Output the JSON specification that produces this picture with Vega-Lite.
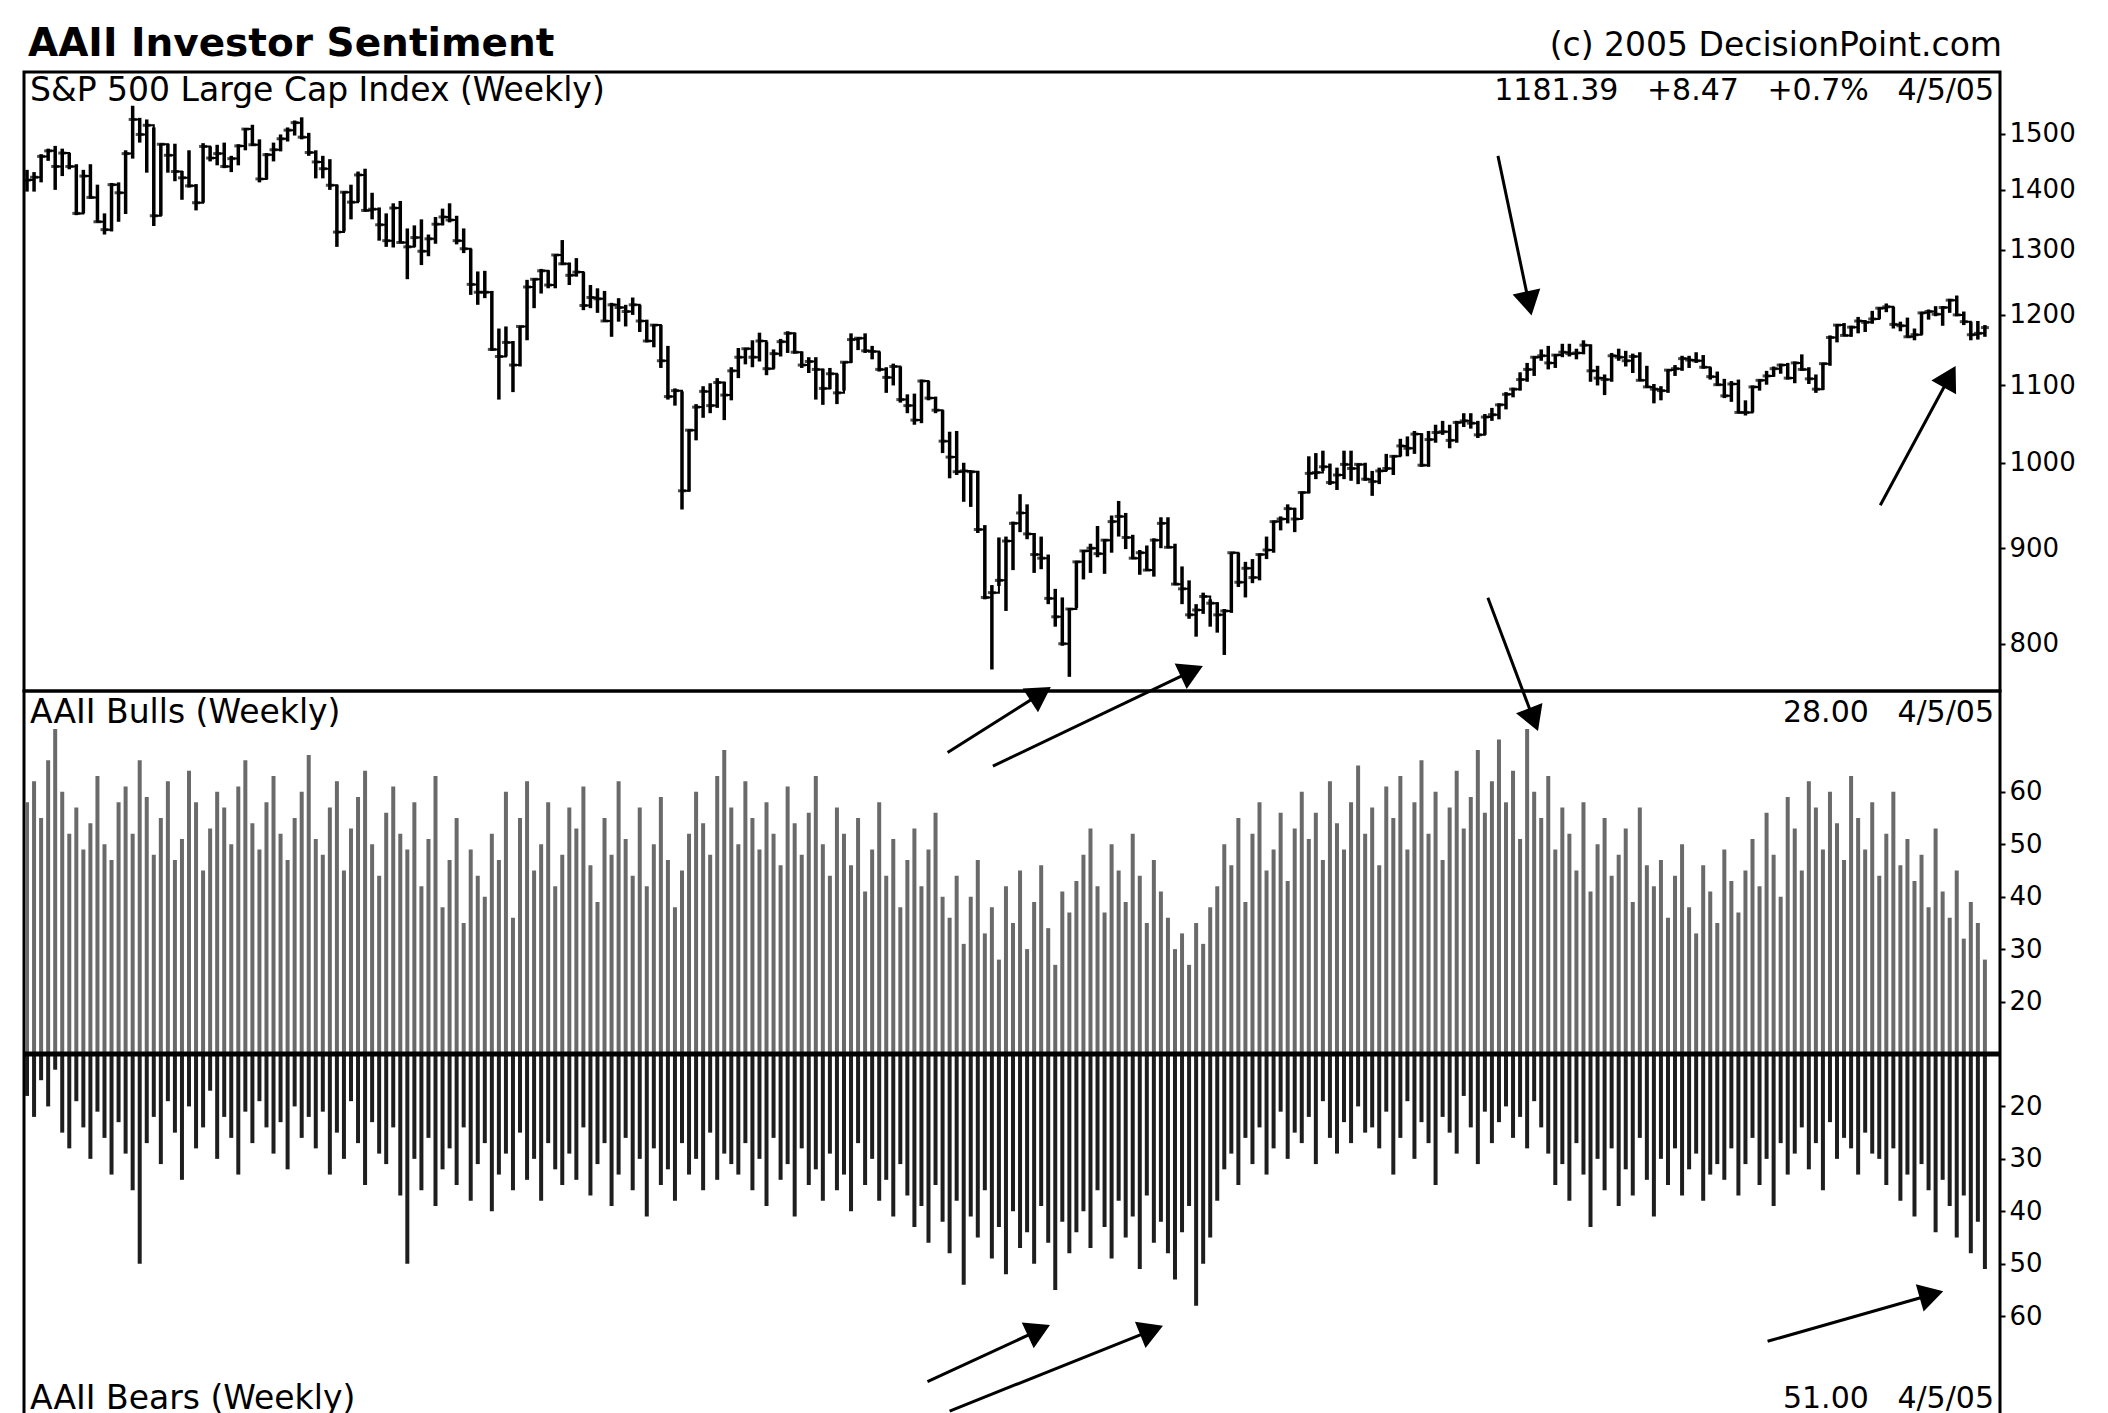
{
"$schema": "https://vega.github.io/schema/vega-lite/v6.json",
"background": "white",
"padding": {"left": 20, "top": 23, "right": 110, "bottom": 0},
"spacing": 0,
"bounds": "flush",
"config": {"view": {"stroke": "black", "strokeWidth": 3}, "font": "DejaVu Sans", "text": {"font": "DejaVu Sans", "color": "black"}, "axis": {"labelFont": "DejaVu Sans", "labelColor": "black", "labelFontSize": 26, "tickColor": "black", "tickWidth": 2, "tickSize": 5, "labelPadding": 4, "domain": false, "grid": false}},
"datasets": {
"w": [
{"d":"1999-12-07","h":1435,"l":1397,"c":1417,"bu":58,"be":18},
{"d":"1999-12-14","h":1431,"l":1397,"c":1422,"bu":62,"be":22},
{"d":"1999-12-21","h":1463,"l":1413,"c":1459,"bu":55,"be":15},
{"d":"1999-12-28","h":1473,"l":1451,"c":1469,"bu":66,"be":20},
{"d":"2000-01-04","h":1478,"l":1400,"c":1441,"bu":72,"be":13},
{"d":"2000-01-11","h":1473,"l":1424,"c":1465,"bu":60,"be":25},
{"d":"2000-01-18","h":1465,"l":1436,"c":1441,"bu":52,"be":28},
{"d":"2000-01-25","h":1445,"l":1357,"c":1360,"bu":57,"be":19},
{"d":"2000-02-01","h":1435,"l":1360,"c":1424,"bu":49,"be":24},
{"d":"2000-02-08","h":1445,"l":1385,"c":1387,"bu":54,"be":30},
{"d":"2000-02-15","h":1409,"l":1345,"c":1346,"bu":63,"be":21},
{"d":"2000-02-22","h":1360,"l":1325,"c":1333,"bu":50,"be":26},
{"d":"2000-02-29","h":1412,"l":1330,"c":1409,"bu":47,"be":33},
{"d":"2000-03-07","h":1413,"l":1346,"c":1395,"bu":58,"be":23},
{"d":"2000-03-14","h":1470,"l":1359,"c":1464,"bu":61,"be":29},
{"d":"2000-03-21","h":1553,"l":1455,"c":1527,"bu":52,"be":36},
{"d":"2000-03-28","h":1530,"l":1484,"c":1499,"bu":66,"be":50},
{"d":"2000-04-04","h":1527,"l":1430,"c":1516,"bu":59,"be":27},
{"d":"2000-04-11","h":1512,"l":1339,"c":1356,"bu":48,"be":22},
{"d":"2000-04-18","h":1482,"l":1356,"c":1481,"bu":55,"be":31},
{"d":"2000-04-25","h":1482,"l":1430,"c":1461,"bu":62,"be":19},
{"d":"2000-05-02","h":1482,"l":1415,"c":1432,"bu":47,"be":25},
{"d":"2000-05-09","h":1433,"l":1383,"c":1421,"bu":51,"be":34},
{"d":"2000-05-16","h":1470,"l":1404,"c":1407,"bu":64,"be":20},
{"d":"2000-05-23","h":1410,"l":1365,"c":1378,"bu":58,"be":28},
{"d":"2000-05-30","h":1483,"l":1378,"c":1477,"bu":45,"be":24},
{"d":"2000-06-06","h":1477,"l":1450,"c":1456,"bu":53,"be":17},
{"d":"2000-06-13","h":1480,"l":1443,"c":1464,"bu":60,"be":30},
{"d":"2000-06-20","h":1484,"l":1438,"c":1441,"bu":57,"be":22},
{"d":"2000-06-27","h":1460,"l":1431,"c":1455,"bu":50,"be":26},
{"d":"2000-07-04","h":1481,"l":1443,"c":1478,"bu":61,"be":33},
{"d":"2000-07-11","h":1511,"l":1470,"c":1509,"bu":66,"be":21},
{"d":"2000-07-18","h":1517,"l":1478,"c":1480,"bu":54,"be":27},
{"d":"2000-07-25","h":1490,"l":1413,"c":1419,"bu":49,"be":19},
{"d":"2000-08-01","h":1465,"l":1418,"c":1462,"bu":58,"be":24},
{"d":"2000-08-08","h":1484,"l":1450,"c":1471,"bu":63,"be":29},
{"d":"2000-08-15","h":1499,"l":1468,"c":1491,"bu":52,"be":23},
{"d":"2000-08-22","h":1512,"l":1486,"c":1507,"bu":47,"be":32},
{"d":"2000-08-29","h":1525,"l":1497,"c":1521,"bu":55,"be":20},
{"d":"2000-09-05","h":1531,"l":1490,"c":1494,"bu":60,"be":26},
{"d":"2000-09-12","h":1502,"l":1460,"c":1466,"bu":67,"be":22},
{"d":"2000-09-19","h":1470,"l":1420,"c":1449,"bu":51,"be":28},
{"d":"2000-09-26","h":1460,"l":1420,"c":1437,"bu":48,"be":21},
{"d":"2000-10-03","h":1454,"l":1400,"c":1408,"bu":57,"be":33},
{"d":"2000-10-10","h":1409,"l":1305,"c":1329,"bu":62,"be":25},
{"d":"2000-10-17","h":1397,"l":1330,"c":1396,"bu":45,"be":30},
{"d":"2000-10-24","h":1409,"l":1350,"c":1379,"bu":53,"be":19},
{"d":"2000-10-31","h":1432,"l":1379,"c":1426,"bu":59,"be":27},
{"d":"2000-11-07","h":1437,"l":1363,"c":1365,"bu":64,"be":35},
{"d":"2000-11-14","h":1395,"l":1350,"c":1367,"bu":50,"be":23},
{"d":"2000-11-21","h":1370,"l":1315,"c":1341,"bu":44,"be":29},
{"d":"2000-11-28","h":1360,"l":1305,"c":1315,"bu":56,"be":31},
{"d":"2000-12-05","h":1377,"l":1304,"c":1369,"bu":61,"be":24},
{"d":"2000-12-12","h":1381,"l":1312,"c":1312,"bu":52,"be":37},
{"d":"2000-12-19","h":1335,"l":1254,"c":1305,"bu":49,"be":50},
{"d":"2000-12-26","h":1340,"l":1305,"c":1320,"bu":58,"be":30},
{"d":"2001-01-02","h":1350,"l":1276,"c":1298,"bu":42,"be":36},
{"d":"2001-01-09","h":1325,"l":1290,"c":1318,"bu":51,"be":26},
{"d":"2001-01-16","h":1354,"l":1310,"c":1342,"bu":63,"be":39},
{"d":"2001-01-23","h":1368,"l":1340,"c":1354,"bu":38,"be":32},
{"d":"2001-01-30","h":1377,"l":1345,"c":1349,"bu":47,"be":28},
{"d":"2001-02-06","h":1356,"l":1309,"c":1315,"bu":55,"be":35},
{"d":"2001-02-13","h":1335,"l":1295,"c":1302,"bu":35,"be":24},
{"d":"2001-02-20","h":1302,"l":1230,"c":1246,"bu":49,"be":38},
{"d":"2001-02-27","h":1266,"l":1215,"c":1234,"bu":44,"be":31},
{"d":"2001-03-06","h":1267,"l":1225,"c":1234,"bu":40,"be":27},
{"d":"2001-03-13","h":1236,"l":1148,"c":1150,"bu":52,"be":40},
{"d":"2001-03-20","h":1180,"l":1081,"c":1140,"bu":47,"be":33},
{"d":"2001-03-27","h":1183,"l":1140,"c":1160,"bu":60,"be":29},
{"d":"2001-04-03","h":1162,"l":1091,"c":1128,"bu":36,"be":36},
{"d":"2001-04-10","h":1183,"l":1126,"c":1183,"bu":55,"be":25},
{"d":"2001-04-17","h":1253,"l":1163,"c":1242,"bu":62,"be":34},
{"d":"2001-04-24","h":1255,"l":1210,"c":1254,"bu":45,"be":30},
{"d":"2001-05-01","h":1270,"l":1232,"c":1267,"bu":50,"be":38},
{"d":"2001-05-08","h":1268,"l":1240,"c":1245,"bu":58,"be":27},
{"d":"2001-05-15","h":1292,"l":1240,"c":1292,"bu":42,"be":32},
{"d":"2001-05-22","h":1316,"l":1276,"c":1278,"bu":48,"be":35},
{"d":"2001-05-29","h":1280,"l":1245,"c":1260,"bu":57,"be":29},
{"d":"2001-06-05","h":1287,"l":1258,"c":1265,"bu":53,"be":34},
{"d":"2001-06-12","h":1265,"l":1207,"c":1214,"bu":61,"be":24},
{"d":"2001-06-19","h":1245,"l":1210,"c":1226,"bu":46,"be":37},
{"d":"2001-06-26","h":1240,"l":1203,"c":1224,"bu":39,"be":31},
{"d":"2001-07-03","h":1236,"l":1190,"c":1191,"bu":55,"be":27},
{"d":"2001-07-10","h":1218,"l":1168,"c":1215,"bu":48,"be":39},
{"d":"2001-07-17","h":1225,"l":1190,"c":1211,"bu":62,"be":33},
{"d":"2001-07-24","h":1215,"l":1183,"c":1205,"bu":51,"be":26},
{"d":"2001-07-31","h":1226,"l":1200,"c":1215,"bu":44,"be":36},
{"d":"2001-08-07","h":1215,"l":1175,"c":1191,"bu":57,"be":30},
{"d":"2001-08-14","h":1193,"l":1160,"c":1162,"bu":42,"be":41},
{"d":"2001-08-21","h":1186,"l":1153,"c":1185,"bu":50,"be":28},
{"d":"2001-08-28","h":1185,"l":1124,"c":1134,"bu":59,"be":35},
{"d":"2001-09-04","h":1155,"l":1081,"c":1085,"bu":47,"be":32},
{"d":"2001-09-11","h":1096,"l":1073,"c":1093,"bu":38,"be":38},
{"d":"2001-09-18","h":1092,"l":944,"c":966,"bu":45,"be":27},
{"d":"2001-09-25","h":1042,"l":965,"c":1041,"bu":52,"be":33},
{"d":"2001-10-02","h":1075,"l":1028,"c":1071,"bu":60,"be":30},
{"d":"2001-10-09","h":1099,"l":1057,"c":1092,"bu":54,"be":36},
{"d":"2001-10-16","h":1103,"l":1063,"c":1073,"bu":48,"be":25},
{"d":"2001-10-23","h":1110,"l":1070,"c":1104,"bu":63,"be":34},
{"d":"2001-10-30","h":1105,"l":1054,"c":1087,"bu":68,"be":29},
{"d":"2001-11-06","h":1125,"l":1080,"c":1120,"bu":57,"be":31},
{"d":"2001-11-13","h":1152,"l":1110,"c":1139,"bu":50,"be":33},
{"d":"2001-11-20","h":1152,"l":1129,"c":1151,"bu":62,"be":27},
{"d":"2001-11-27","h":1163,"l":1125,"c":1139,"bu":55,"be":36},
{"d":"2001-12-04","h":1174,"l":1133,"c":1162,"bu":49,"be":30},
{"d":"2001-12-11","h":1161,"l":1114,"c":1123,"bu":58,"be":39},
{"d":"2001-12-18","h":1150,"l":1123,"c":1144,"bu":52,"be":26},
{"d":"2001-12-25","h":1165,"l":1140,"c":1161,"bu":46,"be":34},
{"d":"2002-01-01","h":1176,"l":1145,"c":1173,"bu":61,"be":31},
{"d":"2002-01-08","h":1174,"l":1144,"c":1146,"bu":54,"be":41},
{"d":"2002-01-15","h":1147,"l":1124,"c":1128,"bu":48,"be":28},
{"d":"2002-01-22","h":1139,"l":1117,"c":1133,"bu":56,"be":35},
{"d":"2002-01-29","h":1139,"l":1081,"c":1122,"bu":63,"be":32},
{"d":"2002-02-05","h":1123,"l":1074,"c":1096,"bu":50,"be":38},
{"d":"2002-02-12","h":1124,"l":1095,"c":1116,"bu":44,"be":29},
{"d":"2002-02-19","h":1116,"l":1075,"c":1090,"bu":57,"be":36},
{"d":"2002-02-26","h":1132,"l":1093,"c":1132,"bu":52,"be":33},
{"d":"2002-03-05","h":1173,"l":1131,"c":1164,"bu":46,"be":40},
{"d":"2002-03-12","h":1167,"l":1149,"c":1166,"bu":55,"be":27},
{"d":"2002-03-19","h":1173,"l":1145,"c":1148,"bu":41,"be":35},
{"d":"2002-03-26","h":1155,"l":1136,"c":1147,"bu":49,"be":30},
{"d":"2002-04-02","h":1147,"l":1119,"c":1122,"bu":58,"be":38},
{"d":"2002-04-09","h":1125,"l":1090,"c":1111,"bu":44,"be":34},
{"d":"2002-04-16","h":1130,"l":1100,"c":1126,"bu":51,"be":41},
{"d":"2002-04-23","h":1126,"l":1077,"c":1081,"bu":38,"be":31},
{"d":"2002-04-30","h":1088,"l":1063,"c":1073,"bu":47,"be":37},
{"d":"2002-05-07","h":1089,"l":1048,"c":1054,"bu":53,"be":43},
{"d":"2002-05-14","h":1108,"l":1050,"c":1106,"bu":42,"be":39},
{"d":"2002-05-21","h":1106,"l":1080,"c":1083,"bu":49,"be":46},
{"d":"2002-05-28","h":1085,"l":1063,"c":1067,"bu":56,"be":35},
{"d":"2002-06-04","h":1067,"l":1012,"c":1027,"bu":40,"be":42},
{"d":"2002-06-11","h":1039,"l":981,"c":1007,"bu":36,"be":48},
{"d":"2002-06-18","h":1040,"l":985,"c":989,"bu":44,"be":38},
{"d":"2002-06-25","h":1000,"l":953,"c":990,"bu":31,"be":54},
{"d":"2002-07-02","h":990,"l":947,"c":989,"bu":40,"be":41},
{"d":"2002-07-09","h":990,"l":917,"c":921,"bu":47,"be":45},
{"d":"2002-07-16","h":926,"l":845,"c":847,"bu":33,"be":36},
{"d":"2002-07-23","h":860,"l":775,"c":852,"bu":38,"be":49},
{"d":"2002-07-30","h":912,"l":859,"c":865,"bu":28,"be":43},
{"d":"2002-08-06","h":913,"l":833,"c":908,"bu":42,"be":52},
{"d":"2002-08-13","h":930,"l":876,"c":928,"bu":35,"be":40},
{"d":"2002-08-20","h":962,"l":918,"c":940,"bu":45,"be":47},
{"d":"2002-08-27","h":950,"l":910,"c":916,"bu":30,"be":44},
{"d":"2002-09-03","h":917,"l":873,"c":893,"bu":39,"be":50},
{"d":"2002-09-10","h":913,"l":877,"c":889,"bu":46,"be":39},
{"d":"2002-09-17","h":893,"l":840,"c":846,"bu":34,"be":46},
{"d":"2002-09-24","h":856,"l":817,"c":827,"bu":27,"be":55},
{"d":"2002-10-01","h":847,"l":798,"c":800,"bu":41,"be":42},
{"d":"2002-10-08","h":836,"l":768,"c":835,"bu":37,"be":48},
{"d":"2002-10-15","h":886,"l":836,"c":885,"bu":43,"be":44},
{"d":"2002-10-22","h":898,"l":866,"c":897,"bu":48,"be":40},
{"d":"2002-10-29","h":905,"l":873,"c":900,"bu":53,"be":47},
{"d":"2002-11-05","h":925,"l":890,"c":894,"bu":42,"be":36},
{"d":"2002-11-12","h":910,"l":872,"c":909,"bu":37,"be":43},
{"d":"2002-11-19","h":937,"l":895,"c":930,"bu":50,"be":49},
{"d":"2002-11-26","h":954,"l":913,"c":936,"bu":45,"be":38},
{"d":"2002-12-03","h":940,"l":899,"c":912,"bu":39,"be":45},
{"d":"2002-12-10","h":915,"l":888,"c":889,"bu":52,"be":41},
{"d":"2002-12-17","h":898,"l":871,"c":895,"bu":44,"be":51},
{"d":"2002-12-24","h":903,"l":875,"c":876,"bu":35,"be":37},
{"d":"2002-12-31","h":911,"l":869,"c":909,"bu":47,"be":46},
{"d":"2003-01-07","h":935,"l":900,"c":928,"bu":41,"be":42},
{"d":"2003-01-14","h":935,"l":900,"c":901,"bu":36,"be":48},
{"d":"2003-01-21","h":905,"l":860,"c":861,"bu":30,"be":53},
{"d":"2003-01-28","h":880,"l":840,"c":856,"bu":33,"be":44},
{"d":"2003-02-04","h":865,"l":825,"c":829,"bu":27,"be":39},
{"d":"2003-02-11","h":840,"l":807,"c":834,"bu":35,"be":58},
{"d":"2003-02-18","h":852,"l":830,"c":848,"bu":31,"be":50},
{"d":"2003-02-25","h":845,"l":817,"c":841,"bu":38,"be":45},
{"d":"2003-03-04","h":842,"l":811,"c":829,"bu":42,"be":38},
{"d":"2003-03-11","h":835,"l":789,"c":833,"bu":50,"be":32},
{"d":"2003-03-18","h":895,"l":831,"c":895,"bu":46,"be":29},
{"d":"2003-03-25","h":895,"l":858,"c":863,"bu":55,"be":35},
{"d":"2003-04-01","h":885,"l":847,"c":878,"bu":39,"be":26},
{"d":"2003-04-08","h":888,"l":862,"c":868,"bu":52,"be":31},
{"d":"2003-04-15","h":894,"l":865,"c":893,"bu":58,"be":24},
{"d":"2003-04-22","h":913,"l":888,"c":898,"bu":45,"be":33},
{"d":"2003-04-29","h":931,"l":895,"c":930,"bu":49,"be":28},
{"d":"2003-05-06","h":936,"l":920,"c":933,"bu":56,"be":21},
{"d":"2003-05-13","h":950,"l":928,"c":945,"bu":43,"be":30},
{"d":"2003-05-20","h":946,"l":918,"c":933,"bu":53,"be":25},
{"d":"2003-05-27","h":965,"l":933,"c":964,"bu":60,"be":27},
{"d":"2003-06-03","h":1008,"l":963,"c":987,"bu":51,"be":22},
{"d":"2003-06-10","h":1012,"l":980,"c":988,"bu":56,"be":31},
{"d":"2003-06-17","h":1015,"l":990,"c":995,"bu":47,"be":19},
{"d":"2003-06-24","h":999,"l":973,"c":976,"bu":62,"be":26},
{"d":"2003-07-01","h":994,"l":967,"c":985,"bu":54,"be":29},
{"d":"2003-07-08","h":1015,"l":980,"c":998,"bu":49,"be":23},
{"d":"2003-07-15","h":1015,"l":978,"c":993,"bu":58,"be":27},
{"d":"2003-07-22","h":999,"l":974,"c":998,"bu":65,"be":20},
{"d":"2003-07-29","h":1000,"l":978,"c":980,"bu":52,"be":25},
{"d":"2003-08-05","h":990,"l":960,"c":977,"bu":57,"be":24},
{"d":"2003-08-12","h":994,"l":974,"c":990,"bu":46,"be":28},
{"d":"2003-08-19","h":1011,"l":990,"c":993,"bu":61,"be":21},
{"d":"2003-08-26","h":1009,"l":985,"c":1008,"bu":55,"be":33},
{"d":"2003-09-02","h":1030,"l":1008,"c":1021,"bu":63,"be":26},
{"d":"2003-09-09","h":1033,"l":1008,"c":1018,"bu":49,"be":19},
{"d":"2003-09-16","h":1040,"l":1011,"c":1036,"bu":58,"be":30},
{"d":"2003-09-23","h":1037,"l":995,"c":997,"bu":66,"be":23},
{"d":"2003-09-30","h":1040,"l":995,"c":1029,"bu":52,"be":27},
{"d":"2003-10-07","h":1048,"l":1025,"c":1038,"bu":60,"be":35},
{"d":"2003-10-14","h":1053,"l":1035,"c":1039,"bu":47,"be":22},
{"d":"2003-10-21","h":1048,"l":1018,"c":1028,"bu":57,"be":25},
{"d":"2003-10-28","h":1053,"l":1025,"c":1051,"bu":64,"be":29},
{"d":"2003-11-04","h":1063,"l":1045,"c":1053,"bu":53,"be":18},
{"d":"2003-11-11","h":1063,"l":1043,"c":1050,"bu":59,"be":24},
{"d":"2003-11-18","h":1053,"l":1031,"c":1035,"bu":68,"be":31},
{"d":"2003-11-25","h":1062,"l":1035,"c":1058,"bu":56,"be":21},
{"d":"2003-12-02","h":1070,"l":1053,"c":1061,"bu":62,"be":27},
{"d":"2003-12-09","h":1076,"l":1055,"c":1074,"bu":70,"be":23},
{"d":"2003-12-16","h":1091,"l":1068,"c":1088,"bu":58,"be":20},
{"d":"2003-12-23","h":1097,"l":1084,"c":1095,"bu":64,"be":26},
{"d":"2003-12-30","h":1118,"l":1093,"c":1108,"bu":51,"be":22},
{"d":"2004-01-06","h":1131,"l":1105,"c":1122,"bu":72,"be":28},
{"d":"2004-01-13","h":1140,"l":1113,"c":1139,"bu":60,"be":19},
{"d":"2004-01-20","h":1150,"l":1134,"c":1141,"bu":55,"be":24},
{"d":"2004-01-27","h":1155,"l":1122,"c":1131,"bu":63,"be":29},
{"d":"2004-02-03","h":1143,"l":1124,"c":1142,"bu":49,"be":35},
{"d":"2004-02-10","h":1158,"l":1139,"c":1146,"bu":57,"be":31},
{"d":"2004-02-17","h":1158,"l":1140,"c":1144,"bu":52,"be":38},
{"d":"2004-02-24","h":1151,"l":1136,"c":1145,"bu":45,"be":27},
{"d":"2004-03-02","h":1163,"l":1143,"c":1156,"bu":58,"be":33},
{"d":"2004-03-09","h":1157,"l":1105,"c":1120,"bu":41,"be":43},
{"d":"2004-03-16","h":1127,"l":1100,"c":1110,"bu":50,"be":30},
{"d":"2004-03-23","h":1115,"l":1087,"c":1108,"bu":55,"be":36},
{"d":"2004-03-30","h":1145,"l":1105,"c":1141,"bu":44,"be":28},
{"d":"2004-04-06","h":1151,"l":1134,"c":1139,"bu":48,"be":39},
{"d":"2004-04-13","h":1148,"l":1126,"c":1134,"bu":53,"be":32},
{"d":"2004-04-20","h":1144,"l":1117,"c":1140,"bu":39,"be":37},
{"d":"2004-04-27","h":1146,"l":1106,"c":1107,"bu":57,"be":26},
{"d":"2004-05-04","h":1127,"l":1097,"c":1098,"bu":46,"be":34},
{"d":"2004-05-11","h":1102,"l":1076,"c":1095,"bu":42,"be":41},
{"d":"2004-05-18","h":1099,"l":1080,"c":1093,"bu":47,"be":30},
{"d":"2004-05-25","h":1122,"l":1090,"c":1121,"bu":36,"be":35},
{"d":"2004-06-01","h":1128,"l":1113,"c":1123,"bu":44,"be":28},
{"d":"2004-06-08","h":1141,"l":1120,"c":1137,"bu":50,"be":37},
{"d":"2004-06-15","h":1141,"l":1124,"c":1135,"bu":38,"be":32},
{"d":"2004-06-22","h":1146,"l":1131,"c":1134,"bu":33,"be":29},
{"d":"2004-06-29","h":1142,"l":1123,"c":1125,"bu":46,"be":38},
{"d":"2004-07-06","h":1125,"l":1108,"c":1112,"bu":41,"be":33},
{"d":"2004-07-13","h":1119,"l":1100,"c":1101,"bu":35,"be":31},
{"d":"2004-07-20","h":1109,"l":1083,"c":1086,"bu":49,"be":34},
{"d":"2004-07-27","h":1106,"l":1078,"c":1102,"bu":43,"be":28},
{"d":"2004-08-03","h":1108,"l":1063,"c":1064,"bu":37,"be":37},
{"d":"2004-08-10","h":1080,"l":1060,"c":1064,"bu":45,"be":31},
{"d":"2004-08-17","h":1100,"l":1064,"c":1098,"bu":51,"be":26},
{"d":"2004-08-24","h":1108,"l":1093,"c":1107,"bu":42,"be":35},
{"d":"2004-08-31","h":1120,"l":1101,"c":1113,"bu":56,"be":30},
{"d":"2004-09-07","h":1126,"l":1112,"c":1123,"bu":48,"be":39},
{"d":"2004-09-14","h":1130,"l":1116,"c":1128,"bu":40,"be":27},
{"d":"2004-09-21","h":1131,"l":1108,"c":1110,"bu":59,"be":33},
{"d":"2004-09-28","h":1133,"l":1103,"c":1131,"bu":53,"be":29},
{"d":"2004-10-05","h":1143,"l":1120,"c":1122,"bu":45,"be":24},
{"d":"2004-10-12","h":1125,"l":1102,"c":1109,"bu":62,"be":32},
{"d":"2004-10-19","h":1115,"l":1090,"c":1095,"bu":57,"be":27},
{"d":"2004-10-26","h":1131,"l":1094,"c":1130,"bu":49,"be":36},
{"d":"2004-11-02","h":1170,"l":1127,"c":1167,"bu":60,"be":23},
{"d":"2004-11-09","h":1186,"l":1160,"c":1185,"bu":54,"be":30},
{"d":"2004-11-16","h":1188,"l":1170,"c":1170,"bu":47,"be":26},
{"d":"2004-11-23","h":1184,"l":1168,"c":1182,"bu":63,"be":28},
{"d":"2004-11-30","h":1197,"l":1173,"c":1191,"bu":55,"be":33},
{"d":"2004-12-07","h":1192,"l":1175,"c":1189,"bu":49,"be":25},
{"d":"2004-12-14","h":1206,"l":1187,"c":1194,"bu":58,"be":29},
{"d":"2004-12-21","h":1211,"l":1194,"c":1210,"bu":44,"be":30},
{"d":"2004-12-28","h":1217,"l":1204,"c":1212,"bu":52,"be":35},
{"d":"2005-01-04","h":1212,"l":1180,"c":1186,"bu":60,"be":28},
{"d":"2005-01-11","h":1190,"l":1176,"c":1184,"bu":46,"be":38},
{"d":"2005-01-18","h":1196,"l":1167,"c":1168,"bu":51,"be":33},
{"d":"2005-01-25","h":1180,"l":1163,"c":1171,"bu":43,"be":41},
{"d":"2005-02-01","h":1204,"l":1171,"c":1203,"bu":48,"be":31},
{"d":"2005-02-08","h":1208,"l":1193,"c":1205,"bu":38,"be":36},
{"d":"2005-02-15","h":1213,"l":1198,"c":1201,"bu":53,"be":44},
{"d":"2005-02-22","h":1213,"l":1184,"c":1211,"bu":41,"be":34},
{"d":"2005-03-01","h":1224,"l":1203,"c":1222,"bu":36,"be":39},
{"d":"2005-03-08","h":1229,"l":1198,"c":1200,"bu":45,"be":45},
{"d":"2005-03-15","h":1205,"l":1185,"c":1190,"bu":32,"be":37},
{"d":"2005-03-22","h":1190,"l":1163,"c":1171,"bu":39,"be":48},
{"d":"2005-03-29","h":1191,"l":1164,"c":1173,"bu":35,"be":42},
{"d":"2005-04-05","h":1185,"l":1168,"c":1181.39,"bu":28,"be":51}
],
"arrTop": [
{"id":"A1","d1":"2003-12-08","v1":1460,"d2":"2004-01-07","v2":1223},
{"id":"A2","d1":"2004-12-22","v1":949,"d2":"2005-02-27","v2":1107}
],
"arrBull": [
{"id":"A3","d1":"2003-11-28","v1":97,"d2":"2004-01-11","v2":74.5},
{"id":"A4","d1":"2002-06-09","v1":67.5,"d2":"2002-09-06","v2":78.3},
{"id":"A5","d1":"2002-07-24","v1":64.9,"d2":"2003-02-03","v2":82.7}
],
"arrBear": [
{"id":"B1","d1":"2002-05-20","v1":72.5,"d2":"2002-09-04","v2":63},
{"id":"B2","d1":"2002-06-11","v1":78.1,"d2":"2002-12-25","v2":63},
{"id":"B3","d1":"2004-09-01","v1":64.8,"d2":"2005-02-07","v2":56.1}
]
},
"vconcat": [
{
"width": 1976, "height": 619,
"layer": [
{"data": {"name": "w"},
 "mark": {"type": "rule", "strokeWidth": 3.5, "color": "black"},
 "encoding": {
  "x": {"field": "d", "type": "temporal", "axis": null, "scale": {"domain": [{"year":1999,"month":12,"date":4,"utc":true},{"year":2005,"month":4,"date":20,"utc":true}]}},
  "y": {"field": "l", "type": "quantitative", "scale": {"type": "log", "domain": [754.7, 1619], "nice": false, "zero": false},
        "axis": {"orient": "right", "values": [800,900,1000,1100,1200,1300,1400,1500], "format": "d", "title": null}},
  "y2": {"field": "h"}}},
{"data": {"name": "w"},
 "mark": {"type": "line", "interpolate": "step-after", "strokeWidth": 2, "color": "black"},
 "encoding": {
  "x": {"field": "d", "type": "temporal", "axis": null},
  "y": {"field": "c", "type": "quantitative", "axis": {"orient": "right", "values": [800,900,1000,1100,1200,1300,1400,1500], "format": "d", "title": null}}}},
{"data": {"name": "w"},
 "mark": {"type": "tick", "orient": "horizontal", "size": 8, "thickness": 3, "color": "black"},
 "encoding": {
  "x": {"field": "d", "type": "temporal", "axis": null},
  "y": {"field": "c", "type": "quantitative", "axis": {"orient": "right", "values": [800,900,1000,1100,1200,1300,1400,1500], "format": "d", "title": null}}}},
{"data": {"values": [{"t": "AAII Investor Sentiment"}]},
 "mark": {"type": "text", "align": "left", "baseline": "alphabetic", "fontSize": 39, "fontWeight": "bold", "dx": 4},
 "encoding": {"x": {"datum": {"year":1999,"month":12,"date":4,"utc":true}, "type": "temporal", "axis": null}, "y": {"datum": 1651, "type": "quantitative", "axis": {"orient": "right", "values": [800,900,1000,1100,1200,1300,1400,1500], "format": "d", "title": null}}, "text": {"field": "t"}}},
{"data": {"values": [{"t": "(c) 2005 DecisionPoint.com"}]},
 "mark": {"type": "text", "align": "right", "baseline": "alphabetic", "fontSize": 33, "dx": 2},
 "encoding": {"x": {"datum": {"year":2005,"month":4,"date":20,"utc":true}, "type": "temporal", "axis": null}, "y": {"datum": 1651, "type": "quantitative", "axis": {"orient": "right", "values": [800,900,1000,1100,1200,1300,1400,1500], "format": "d", "title": null}}, "text": {"field": "t"}}},
{"data": {"values": [{"t": "S&P 500 Large Cap Index (Weekly)"}]},
 "mark": {"type": "text", "align": "left", "baseline": "middle", "fontSize": 33, "dx": 6},
 "encoding": {"x": {"datum": {"year":1999,"month":12,"date":4,"utc":true}, "type": "temporal", "axis": null}, "y": {"datum": 1581, "type": "quantitative", "axis": {"orient": "right", "values": [800,900,1000,1100,1200,1300,1400,1500], "format": "d", "title": null}}, "text": {"field": "t"}}},
{"data": {"values": [{"t": "1181.39\u00a0\u00a0\u00a0+8.47\u00a0\u00a0\u00a0+0.7%\u00a0\u00a0\u00a04/5/05"}]},
 "mark": {"type": "text", "align": "right", "baseline": "middle", "fontSize": 30, "dx": -6},
 "encoding": {"x": {"datum": {"year":2005,"month":4,"date":20,"utc":true}, "type": "temporal", "axis": null}, "y": {"datum": 1581, "type": "quantitative", "axis": {"orient": "right", "values": [800,900,1000,1100,1200,1300,1400,1500], "format": "d", "title": null}}, "text": {"field": "t"}}},
{"data": {"name": "arrTop"},
 "mark": {"type": "rule", "strokeWidth": 3, "color": "black"},
 "encoding": {"x": {"field": "d1", "type": "temporal", "axis": null}, "x2": {"field": "d2"}, "y": {"field": "v1", "type": "quantitative", "axis": {"orient": "right", "values": [800,900,1000,1100,1200,1300,1400,1500], "format": "d", "title": null}}, "y2": {"field": "v2"}}},
{"data": {"name": "arrTop"}, "transform": [{"filter": "datum.id == 'A1'"}],
 "mark": {"type": "point", "shape": "triangle", "filled": true, "color": "black", "opacity": 1, "size": 800, "angle": 168},
 "encoding": {"x": {"field": "d2", "type": "temporal", "axis": null}, "y": {"field": "v2", "type": "quantitative", "axis": {"orient": "right", "values": [800,900,1000,1100,1200,1300,1400,1500], "format": "d", "title": null}}}},
{"data": {"name": "arrTop"}, "transform": [{"filter": "datum.id == 'A2'"}],
 "mark": {"type": "point", "shape": "triangle", "filled": true, "color": "black", "opacity": 1, "size": 800, "angle": 29},
 "encoding": {"x": {"field": "d2", "type": "temporal", "axis": null}, "y": {"field": "v2", "type": "quantitative", "axis": {"orient": "right", "values": [800,900,1000,1100,1200,1300,1400,1500], "format": "d", "title": null}}}}
]
},
{
"width": 1976, "height": 760,
"layer": [
{"layer": [
 {"data": {"name": "w"},
  "mark": {"type": "rule", "strokeWidth": 4, "color": "#6a6a6a"},
  "encoding": {
   "x": {"field": "d", "type": "temporal", "axis": null, "scale": {"domain": [{"year":1999,"month":12,"date":4,"utc":true},{"year":2005,"month":4,"date":20,"utc":true}]}},
   "y": {"field": "bu", "type": "quantitative", "scale": {"domain": [-65.72, 79.23], "nice": false, "zero": false},
         "axis": {"orient": "right", "values": [20,30,40,50,60], "title": null}},
   "y2": {"datum": 10}}},
 {"data": {"values": [{"t": "AAII Bulls (Weekly)"}]},
  "mark": {"type": "text", "align": "left", "baseline": "middle", "fontSize": 33, "dx": 6},
  "encoding": {"x": {"datum": {"year":1999,"month":12,"date":4,"utc":true}, "type": "temporal", "axis": null}, "y": {"datum": 75, "type": "quantitative", "axis": {"orient": "right", "values": [20,30,40,50,60], "title": null}}, "text": {"field": "t"}}},
 {"data": {"values": [{"t": "28.00\u00a0\u00a0\u00a04/5/05"}]},
  "mark": {"type": "text", "align": "right", "baseline": "middle", "fontSize": 30, "dx": -6},
  "encoding": {"x": {"datum": {"year":2005,"month":4,"date":20,"utc":true}, "type": "temporal", "axis": null}, "y": {"datum": 75, "type": "quantitative", "axis": {"orient": "right", "values": [20,30,40,50,60], "title": null}}, "text": {"field": "t"}}},
 {"data": {"name": "arrBull"},
  "mark": {"type": "rule", "strokeWidth": 3, "color": "black"},
  "encoding": {"x": {"field": "d1", "type": "temporal", "axis": null}, "x2": {"field": "d2"}, "y": {"field": "v1", "type": "quantitative", "axis": {"orient": "right", "values": [20,30,40,50,60], "title": null}}, "y2": {"field": "v2"}}},
 {"data": {"name": "arrBull"}, "transform": [{"filter": "datum.id == 'A3'"}],
  "mark": {"type": "point", "shape": "triangle", "filled": true, "color": "black", "opacity": 1, "size": 800, "angle": 159},
  "encoding": {"x": {"field": "d2", "type": "temporal", "axis": null}, "y": {"field": "v2", "type": "quantitative", "axis": {"orient": "right", "values": [20,30,40,50,60], "title": null}}}},
 {"data": {"name": "arrBull"}, "transform": [{"filter": "datum.id == 'A4'"}],
  "mark": {"type": "point", "shape": "triangle", "filled": true, "color": "black", "opacity": 1, "size": 800, "angle": 57},
  "encoding": {"x": {"field": "d2", "type": "temporal", "axis": null}, "y": {"field": "v2", "type": "quantitative", "axis": {"orient": "right", "values": [20,30,40,50,60], "title": null}}}},
 {"data": {"name": "arrBull"}, "transform": [{"filter": "datum.id == 'A5'"}],
  "mark": {"type": "point", "shape": "triangle", "filled": true, "color": "black", "opacity": 1, "size": 800, "angle": 65},
  "encoding": {"x": {"field": "d2", "type": "temporal", "axis": null}, "y": {"field": "v2", "type": "quantitative", "axis": {"orient": "right", "values": [20,30,40,50,60], "title": null}}}}
]},
{"layer": [
 {"data": {"name": "w"},
  "mark": {"type": "rule", "strokeWidth": 4, "color": "#1e1e1e"},
  "encoding": {
   "x": {"field": "d", "type": "temporal", "axis": null, "scale": {"domain": [{"year":1999,"month":12,"date":4,"utc":true},{"year":2005,"month":4,"date":20,"utc":true}]}},
   "y": {"field": "be", "type": "quantitative", "scale": {"domain": [-59.23, 85.72], "reverse": true, "nice": false, "zero": false},
         "axis": {"orient": "right", "values": [20,30,40,50,60], "title": null}},
   "y2": {"datum": 10}}},
 {"data": {"values": [{"t": "baseline"}]},
  "mark": {"type": "rule", "strokeWidth": 5, "color": "black"},
  "encoding": {"y": {"datum": 10, "type": "quantitative", "axis": {"orient": "right", "values": [20,30,40,50,60], "title": null}}}},
 {"data": {"values": [{"t": "AAII Bears (Weekly)"}]},
  "mark": {"type": "text", "align": "left", "baseline": "middle", "fontSize": 33, "dx": 6},
  "encoding": {"x": {"datum": {"year":1999,"month":12,"date":4,"utc":true}, "type": "temporal", "axis": null}, "y": {"datum": 75.8, "type": "quantitative", "axis": {"orient": "right", "values": [20,30,40,50,60], "title": null}}, "text": {"field": "t"}}},
 {"data": {"values": [{"t": "51.00\u00a0\u00a0\u00a04/5/05"}]},
  "mark": {"type": "text", "align": "right", "baseline": "middle", "fontSize": 30, "dx": -6},
  "encoding": {"x": {"datum": {"year":2005,"month":4,"date":20,"utc":true}, "type": "temporal", "axis": null}, "y": {"datum": 75.8, "type": "quantitative", "axis": {"orient": "right", "values": [20,30,40,50,60], "title": null}}, "text": {"field": "t"}}},
 {"data": {"name": "arrBear"},
  "mark": {"type": "rule", "strokeWidth": 3, "color": "black"},
  "encoding": {"x": {"field": "d1", "type": "temporal", "axis": null}, "x2": {"field": "d2"}, "y": {"field": "v1", "type": "quantitative", "axis": {"orient": "right", "values": [20,30,40,50,60], "title": null}}, "y2": {"field": "v2"}}},
 {"data": {"name": "arrBear"}, "transform": [{"filter": "datum.id == 'B1'"}],
  "mark": {"type": "point", "shape": "triangle", "filled": true, "color": "black", "opacity": 1, "size": 800, "angle": 65},
  "encoding": {"x": {"field": "d2", "type": "temporal", "axis": null}, "y": {"field": "v2", "type": "quantitative", "axis": {"orient": "right", "values": [20,30,40,50,60], "title": null}}}},
 {"data": {"name": "arrBear"}, "transform": [{"filter": "datum.id == 'B2'"}],
  "mark": {"type": "point", "shape": "triangle", "filled": true, "color": "black", "opacity": 1, "size": 800, "angle": 68},
  "encoding": {"x": {"field": "d2", "type": "temporal", "axis": null}, "y": {"field": "v2", "type": "quantitative", "axis": {"orient": "right", "values": [20,30,40,50,60], "title": null}}}},
 {"data": {"name": "arrBear"}, "transform": [{"filter": "datum.id == 'B3'"}],
  "mark": {"type": "point", "shape": "triangle", "filled": true, "color": "black", "opacity": 1, "size": 800, "angle": 74},
  "encoding": {"x": {"field": "d2", "type": "temporal", "axis": null}, "y": {"field": "v2", "type": "quantitative", "axis": {"orient": "right", "values": [20,30,40,50,60], "title": null}}}}
]}
],
"resolve": {"scale": {"y": "independent"}, "axis": {"y": "independent"}}
}
]
}
